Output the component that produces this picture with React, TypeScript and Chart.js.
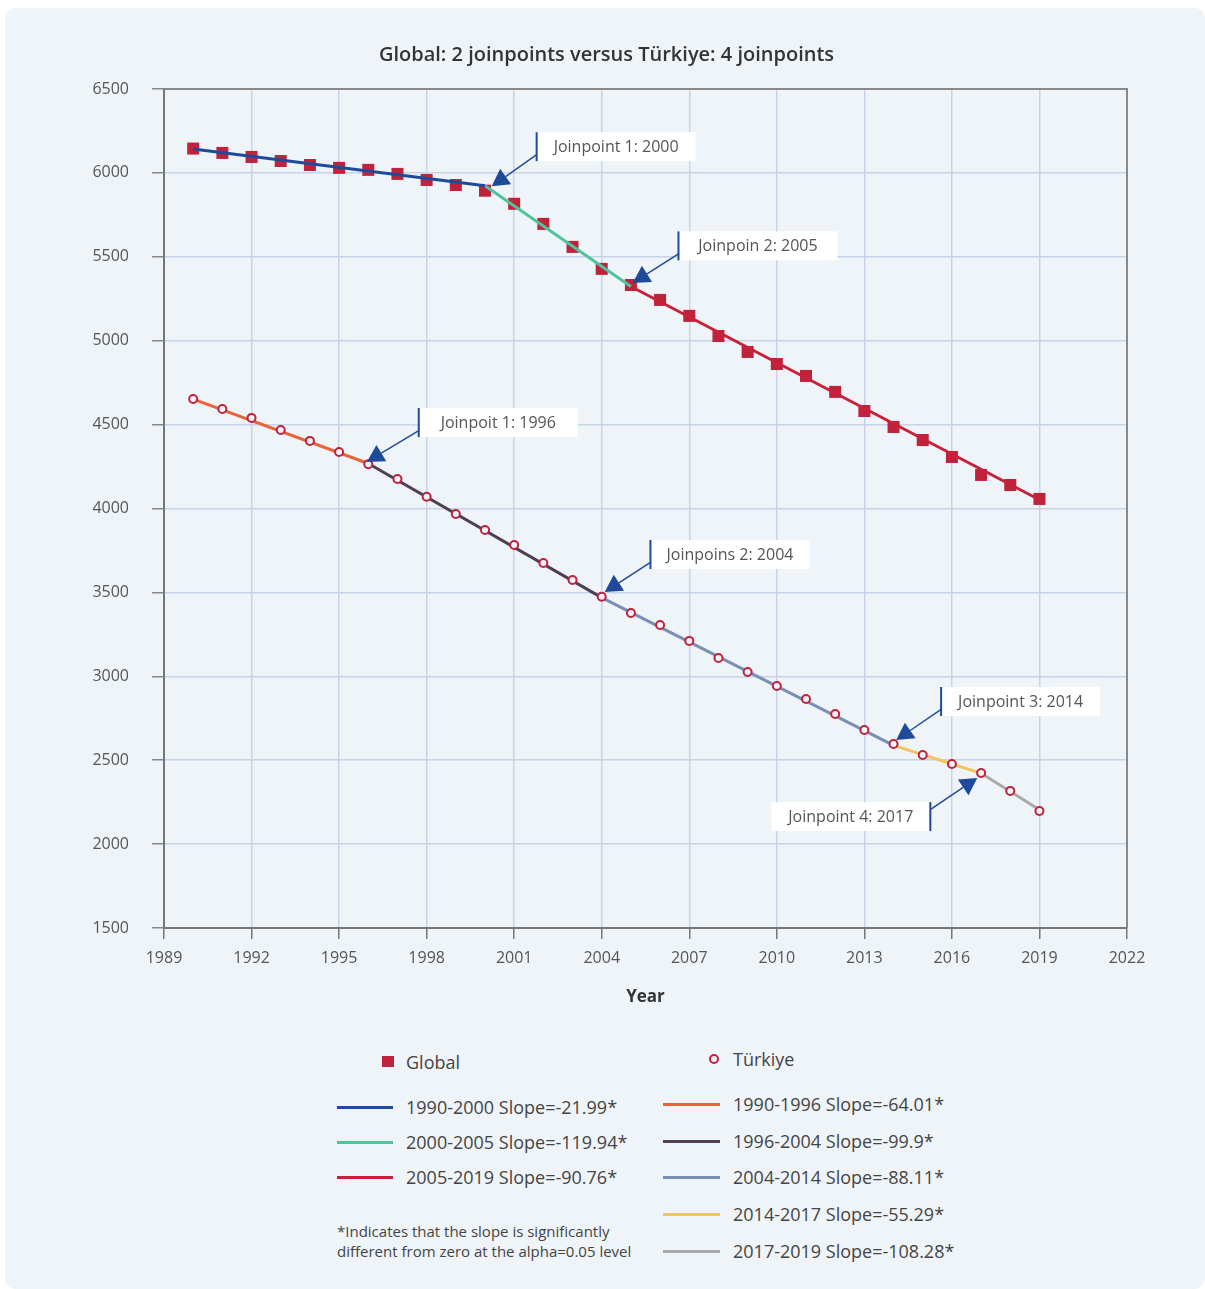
import React, { useEffect, useRef } from 'react';
import { Chart, registerables } from 'chart.js';

Chart.register(...registerables);

// ---------- data ----------
const years = [1990, 1991, 1992, 1993, 1994, 1995, 1996, 1997, 1998, 1999, 2000, 2001, 2002, 2003, 2004, 2005, 2006, 2007, 2008, 2009, 2010, 2011, 2012, 2013, 2014, 2015, 2016, 2017, 2018, 2019];
const globalValues = [6145, 6119, 6095, 6071, 6047, 6030, 6018, 5994, 5958, 5928, 5894, 5816, 5696, 5559, 5428, 5332, 5243, 5148, 5028, 4933, 4861, 4790, 4695, 4581, 4486, 4408, 4307, 4200, 4140, 4057];
const turkiyeValues = [4653, 4593, 4540, 4468, 4403, 4337, 4264, 4176, 4070, 3967, 3872, 3783, 3675, 3574, 3474, 3377, 3306, 3211, 3109, 3026, 2942, 2865, 2775, 2680, 2597, 2531, 2477, 2424, 2317, 2197];

const globalJoinYears = [1990, 2000, 2005, 2019];
const globalFitValues = [6143, 5923, 5323, 4052];
const globalSegmentLabels = ['1990-2000 Slope=-21.99*', '2000-2005 Slope=-119.94*', '2005-2019 Slope=-90.76*'];

const turkiyeJoinYears = [1990, 1996, 2004, 2014, 2017, 2019];
const turkiyeFitValues = [4652, 4268, 3469, 2588, 2422, 2205];
const turkiyeSegmentLabels = ['1990-1996 Slope=-64.01*', '1996-2004 Slope=-99.9*', '2004-2014 Slope=-88.11*', '2014-2017 Slope=-55.29*', '2017-2019 Slope=-108.28*'];

const xTickMin = 1989;
const xTickMax = 2022;
const xTickStep = 3;
const yTickMin = 1500;
const yTickMax = 6500;
const yTickStep = 500;

const titleText = 'Global: 2 joinpoints versus Türkiye: 4 joinpoints';
const xTitle = 'Year';
const globalName = 'Global';
const turkiyeName = 'Türkiye';
const footnoteLines = ['*Indicates that the slope is significantly', 'different from zero at the alpha=0.05 level'];

const noteTexts = ['Joinpoint 1: 2000', 'Joinpoin 2: 2005', 'Joinpoit 1: 1996', 'Joinpoins 2: 2004', 'Joinpoint 3: 2014', 'Joinpoint 4: 2017'];
const noteBarYears = [2001.77, 2006.63, 1997.73, 2005.67, 2015.63, 2015.26];
const noteBoxValues = [6156, 5565, 4512, 3726, 2850, 2164];
const noteTipYears = [2000.23, 2005.06, 1995.95, 2004.1, 2014.09, 2016.87];
const noteTipValues = [5920, 5344, 4277, 3502, 2620, 2394];
const noteSides = ['left', 'left', 'left', 'left', 'left', 'right'];

// ---------- styles ----------
const FONT = '"Open Sans", "Noto Sans", sans-serif';
const PANEL_BG = '#eff4f9';
const RED = '#c0223b';
const ARROW_BLUE = '#1f4a9a';
const globalSegmentColors = ['#1f4a9a', '#4fc39b', '#c8213a'];
const turkiyeSegmentColors = ['#e8643a', '#4e3f55', '#7b8fb5', '#f2c462', '#a9a9a9'];

const frameAndNotes = {
  id: 'frameAndNotes',
  afterDatasetsDraw(chart: any) {
    const { ctx, chartArea, scales } = chart;
    const xs = scales.x;
    const ys = scales.y;
    ctx.save();
    // top and right frame
    ctx.strokeStyle = '#888';
    ctx.lineWidth = 2;
    ctx.beginPath();
    ctx.moveTo(chartArea.left, chartArea.top);
    ctx.lineTo(chartArea.right, chartArea.top);
    ctx.lineTo(chartArea.right, chartArea.bottom);
    ctx.stroke();

    ctx.font = `16px ${FONT}`;
    const w = 159;
    const h = 29;
    for (let i = 0; i < noteTexts.length; i++) {
      const bx = xs.getPixelForValue(noteBarYears[i]);
      const cy = ys.getPixelForValue(noteBoxValues[i]);
      const left = noteSides[i] === 'left' ? bx : bx - w;
      ctx.fillStyle = '#ffffff';
      ctx.fillRect(left, cy - h / 2, w, h);
      ctx.fillStyle = '#555';
      ctx.textAlign = 'center';
      ctx.textBaseline = 'middle';
      ctx.fillText(noteTexts[i], left + w / 2, cy + 1);
      // bar
      ctx.strokeStyle = ARROW_BLUE;
      ctx.lineWidth = 2;
      ctx.beginPath();
      ctx.moveTo(bx, cy - h / 2);
      ctx.lineTo(bx, cy + h / 2);
      ctx.stroke();
      // arrow
      const sx = bx;
      const sy = noteSides[i] === 'left' ? cy + 8 : cy - 7;
      const tx = xs.getPixelForValue(noteTipYears[i]);
      const ty = ys.getPixelForValue(noteTipValues[i]);
      const dx = tx - sx;
      const dy = ty - sy;
      const len = Math.hypot(dx, dy);
      const ux = dx / len;
      const uy = dy / len;
      const headLen = 17;
      const headHalf = 9.5;
      const baseX = tx - ux * headLen;
      const baseY = ty - uy * headLen;
      ctx.lineWidth = 1.5;
      ctx.beginPath();
      ctx.moveTo(sx, sy);
      ctx.lineTo(baseX, baseY);
      ctx.stroke();
      ctx.fillStyle = ARROW_BLUE;
      ctx.beginPath();
      ctx.moveTo(tx, ty);
      ctx.lineTo(baseX - uy * headHalf, baseY + ux * headHalf);
      ctx.lineTo(baseX + uy * headHalf, baseY - ux * headHalf);
      ctx.closePath();
      ctx.fill();
    }
    ctx.restore();
  },
};

function segmentDatasets(joinYears: number[], fits: number[], labels: string[], colors: string[]) {
  return labels.map((label, i) => ({
    type: 'scatter' as const,
    label,
    data: [
      { x: joinYears[i], y: fits[i] },
      { x: joinYears[i + 1], y: fits[i + 1] },
    ],
    showLine: true,
    borderColor: colors[i],
    backgroundColor: colors[i],
    borderWidth: 3,
    pointRadius: 0,
    pointHoverRadius: 0,
  }));
}

function ChartCanvas() {
  const ref = useRef<HTMLCanvasElement | null>(null);
  useEffect(() => {
    document.body.style.margin = '0';
    const canvas = ref.current;
    if (!canvas) return;
    const chart = new Chart(canvas, {
      type: 'scatter',
      data: {
        datasets: [
          {
            label: turkiyeName,
            data: years.map((y, i) => ({ x: y, y: turkiyeValues[i] })),
            pointStyle: 'circle',
            pointRadius: 4,
            pointBorderWidth: 2,
            pointBorderColor: RED,
            pointBackgroundColor: PANEL_BG,
            showLine: false,
          },
          ...segmentDatasets(turkiyeJoinYears, turkiyeFitValues, turkiyeSegmentLabels, turkiyeSegmentColors),
          ...segmentDatasets(globalJoinYears, globalFitValues, globalSegmentLabels, globalSegmentColors),
          {
            label: globalName,
            data: years.map((y, i) => ({ x: y, y: globalValues[i] })),
            pointStyle: 'rect',
            pointRadius: 8.5,
            pointBorderWidth: 0,
            pointBackgroundColor: RED,
            pointBorderColor: RED,
            showLine: false,
          },
        ] as any,
      },
      options: {
        animation: false,
        responsive: false,
        devicePixelRatio: 1,
        layout: { padding: { left: 8, right: 0, top: 0, bottom: 0 } },
        plugins: {
          legend: { display: false },
          tooltip: { enabled: false },
          title: {
            display: true,
            text: titleText,
            color: '#333',
            font: { family: FONT, size: 20, weight: 600 as any, lineHeight: 1.2 },
            padding: { top: 43, bottom: 22 },
          },
        },
        scales: {
          x: {
            type: 'linear',
            min: xTickMin,
            max: xTickMax,
            afterFit(scale: any) {
              scale.height = 92;
            },
            ticks: {
              stepSize: xTickStep,
              color: '#555',
              font: { family: FONT, size: 16 },
              padding: 10,
              maxRotation: 0,
              callback: (v: any) => String(v),
            },
            grid: { color: '#c6d3ea', lineWidth: 1.5, tickColor: '#777', tickLength: 11, tickWidth: 1.5 },
            border: { display: true, color: '#777', width: 2 },
            title: {
              display: true,
              text: xTitle,
              color: '#333',
              font: { family: FONT, size: 17, weight: 'bold', lineHeight: 1.2 },
              padding: { top: 0, bottom: 13 },
            },
          },
          y: {
            type: 'linear',
            min: yTickMin,
            max: yTickMax,
            afterFit(scale: any) {
              scale.width = 156;
            },
            ticks: {
              stepSize: yTickStep,
              color: '#555',
              font: { family: FONT, size: 16 },
              padding: 23,
              callback: (v: any) => String(v),
            },
            grid: { color: '#c6d3ea', lineWidth: 1.5, tickColor: '#888', tickLength: 12, tickWidth: 1.5 },
            border: { display: true, color: '#777', width: 2 },
          },
          yRight: {
            type: 'linear',
            position: 'right',
            display: true,
            min: yTickMin,
            max: yTickMax,
            afterFit(scale: any) {
              scale.width = 78;
            },
            ticks: { display: false },
            grid: { display: false },
            border: { display: false },
          },
        },
      },
      plugins: [frameAndNotes],
    });
    return () => chart.destroy();
  }, []);
  return <canvas ref={ref} width={1205} height={1020} style={{ position: 'absolute', left: 0, top: 0, width: 1205, height: 1020 }} />;
}

const textStyle: React.CSSProperties = {
  position: 'absolute',
  fontFamily: FONT,
  fontSize: 18,
  color: '#444',
  lineHeight: '24px',
  whiteSpace: 'nowrap',
};

export default function App() {
  const globalRows = [1107, 1142, 1177];
  const turkiyeRows = [1104, 1141, 1177, 1214, 1251];
  return (
    <div style={{ position: 'relative', width: 1205, height: 1289, background: '#fff', overflow: 'hidden' }}>
      <div style={{ position: 'absolute', left: 5, top: 8, right: 0, bottom: 0, background: PANEL_BG, borderRadius: 10 }} />
      <ChartCanvas />
      {/* Global legend */}
      <div style={{ position: 'absolute', left: 382, top: 1056, width: 12, height: 11, background: RED }} />
      <div style={{ ...textStyle, left: 406, top: 1062 - 12 }}>{globalName}</div>
      {globalSegmentLabels.map((label, i) => (
        <React.Fragment key={label}>
          <div style={{ position: 'absolute', left: 337, top: globalRows[i] - 1.5, width: 56, height: 3, background: globalSegmentColors[i] }} />
          <div style={{ ...textStyle, left: 406, top: globalRows[i] - 12 }}>{label}</div>
        </React.Fragment>
      ))}
      {footnoteLines.map((line, i) => (
        <div key={line} style={{ ...textStyle, fontSize: 15, left: 337, top: 1231 + i * 20 - 12 }}>{line}</div>
      ))}
      {/* Türkiye legend */}
      <div style={{ position: 'absolute', left: 709, top: 1054, width: 10, height: 10, boxSizing: 'border-box', border: `2px solid ${RED}`, borderRadius: '50%' }} />
      <div style={{ ...textStyle, left: 733, top: 1059 - 12 }}>{turkiyeName}</div>
      {turkiyeSegmentLabels.map((label, i) => (
        <React.Fragment key={label}>
          <div style={{ position: 'absolute', left: 663, top: turkiyeRows[i] - 1.5, width: 57, height: 3, background: turkiyeSegmentColors[i] }} />
          <div style={{ ...textStyle, left: 733, top: turkiyeRows[i] - 12 }}>{label}</div>
        </React.Fragment>
      ))}
    </div>
  );
}
